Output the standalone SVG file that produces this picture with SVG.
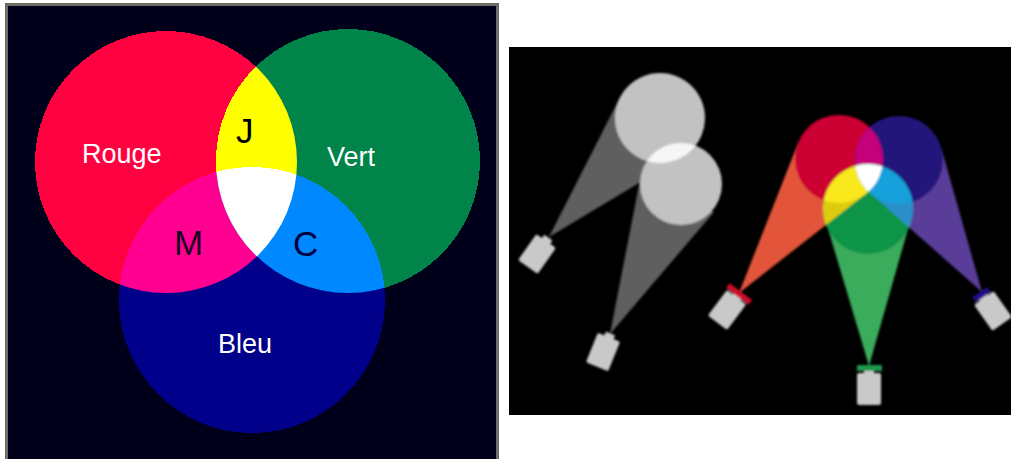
<svg xmlns="http://www.w3.org/2000/svg" width="1011" height="459" viewBox="0 0 1011 459">
  <style>
    .lbl { font-family: "Liberation Sans", Arial, sans-serif; }
    .white { fill: #ffffff; font-size: 27px; }
    .dark { font-size: 35px; }
    .box { fill: #c9c9c9; }
  </style>
  <defs>
    <!-- additive colour wheel clips -->
    <clipPath id="clipRed"><circle cx="166" cy="162" r="131"/></clipPath>
    <clipPath id="clipGreen"><circle cx="348" cy="161" r="132"/></clipPath>

    <!-- stage lighting clips -->
    <clipPath id="clipGrey1"><circle cx="660" cy="118" r="45"/></clipPath>
    <clipPath id="spotR"><circle cx="839" cy="159" r="44"/></clipPath>
    <clipPath id="spotB"><circle cx="899" cy="160" r="44"/></clipPath>
    <clipPath id="beamR"><polygon points="739,293 798.3,142.4 865.5,194"/></clipPath>
    <clipPath id="beamB"><polygon points="982,292 870.3,193.3 941.3,147.9"/></clipPath>

    <filter id="soft" x="-5%" y="-5%" width="110%" height="110%">
      <feGaussianBlur stdDeviation="0.8"/>
    </filter>

    <!-- projector body with lens nub -->
    <g id="projector">
      <rect class="box" x="-12" y="-16" width="24" height="32" rx="2"/>
      <rect class="box" x="-5" y="-20" width="10" height="5" rx="1"/>
    </g>
  </defs>

  <!-- left panel: additive colour circles -->
  <g id="colour-wheel" shape-rendering="crispEdges">
    <rect x="6.5" y="4.5" width="491" height="460" fill="#00001a" stroke="#6e6e66" stroke-width="3"/>
    <g id="circle-rouge"><circle cx="166" cy="162" r="131" fill="#ff0040"/></g>
    <g id="circle-vert"><circle cx="348" cy="161" r="132" fill="#00844a"/></g>
    <g id="circle-bleu"><circle cx="252" cy="300" r="133" fill="#00008a"/></g>
    <g id="zone-jaune"><circle cx="348" cy="161" r="132" fill="#ffff00" clip-path="url(#clipRed)"/></g>
    <g id="zone-magenta"><circle cx="252" cy="300" r="133" fill="#ff0090" clip-path="url(#clipRed)"/></g>
    <g id="zone-cyan"><circle cx="252" cy="300" r="133" fill="#0088ff" clip-path="url(#clipGreen)"/></g>
    <g id="zone-blanc" clip-path="url(#clipGreen)">
      <circle cx="252" cy="300" r="133" fill="#ffffff" clip-path="url(#clipRed)"/>
    </g>
    <g id="labels">
      <text class="lbl white" x="82" y="163">Rouge</text>
      <text class="lbl white" x="327" y="166">Vert</text>
      <text class="lbl white" x="218" y="353">Bleu</text>
      <text class="lbl dark" x="236" y="143" fill="#000000">J</text>
      <text class="lbl dark" x="174" y="255" fill="#1c0028">M</text>
      <text class="lbl dark" x="293" y="256" fill="#000040">C</text>
    </g>
  </g>

  <!-- right panel: stage projectors -->
  <rect x="509" y="47" width="502" height="368" fill="#000000"/>
  <g id="stage" filter="url(#soft)">
    <g id="grey-lights">
      <polygon points="549,237 619.9,97.6 683.2,156.6" fill="#5f5f5f"/>
      <polygon points="610,334 640.7,176.2 714,212" fill="#5f5f5f"/>
      <circle cx="660" cy="118" r="45" fill="#c2c2c2"/>
      <circle cx="681" cy="184" r="41" fill="#c2c2c2"/>
      <circle cx="681" cy="184" r="41" fill="#f6f6f6" clip-path="url(#clipGrey1)"/>
      <use href="#projector" transform="translate(537,254) rotate(35)"/>
      <use href="#projector" transform="translate(603,352) rotate(22)"/>
    </g>
    <g id="colour-lights">
      <polygon points="739,293 798.3,142.4 865.5,194" fill="#e2553a"/>
      <polygon points="982,292 870.3,193.3 941.3,147.9" fill="#5a3d98"/>
      <polygon points="869,366 825.8,221.3 910.2,221.3" fill="#3aac5c"/>
      <circle cx="839" cy="159" r="44" fill="#cc0033"/>
      <circle cx="899" cy="160" r="44" fill="#23137a"/>
      <circle cx="899" cy="160" r="44" fill="#c4007a" clip-path="url(#spotR)"/>
      <circle cx="868" cy="209" r="45" fill="#0f9447"/>
      <circle cx="868" cy="209" r="45" fill="#ddcc10" clip-path="url(#beamR)"/>
      <circle cx="868" cy="209" r="45" fill="#f8e81c" clip-path="url(#spotR)"/>
      <circle cx="868" cy="209" r="45" fill="#2a8fc8" clip-path="url(#beamB)"/>
      <circle cx="868" cy="209" r="45" fill="#12a0dc" clip-path="url(#spotB)"/>
      <g clip-path="url(#spotB)">
        <circle cx="868" cy="209" r="45" fill="#ffffff" clip-path="url(#spotR)"/>
      </g>
      <g id="projector-red" transform="translate(727,310) rotate(37)">
        <use href="#projector"/>
        <rect x="-14" y="-23" width="28" height="6" fill="#d0102a"/>
      </g>
      <g id="projector-green" transform="translate(869,389)">
        <use href="#projector"/>
        <rect x="-12" y="-24" width="25" height="6" fill="#1a9a48"/>
      </g>
      <g id="projector-blue" transform="translate(993,311) rotate(-35)">
        <use href="#projector"/>
        <rect x="-9" y="-23" width="18" height="6" fill="#20108a"/>
      </g>
    </g>
  </g>
</svg>
